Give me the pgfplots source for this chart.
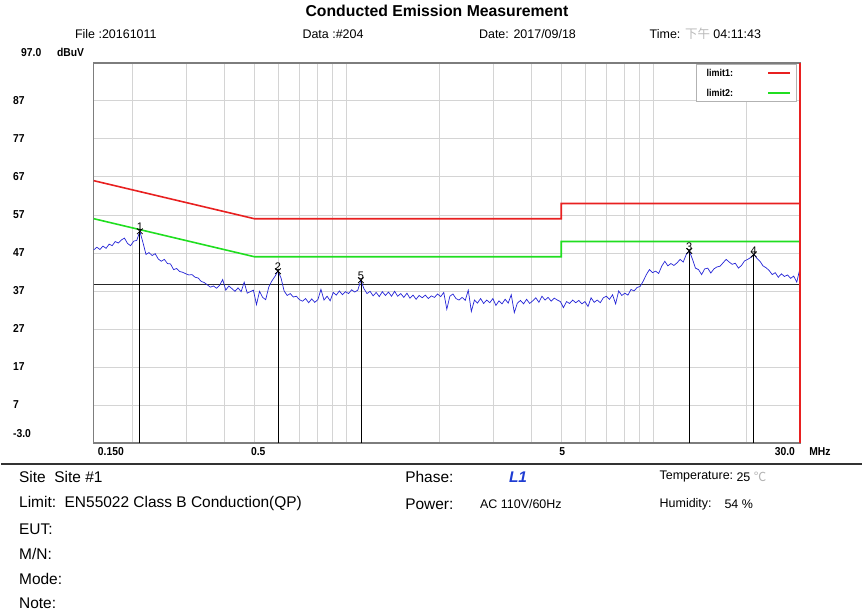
\documentclass[border=0pt]{standalone}
\usepackage{fontspec}
\setmainfont{Liberation Sans}
\newfontfamily\cjk{Noto Sans CJK SC}
\newfontfamily\narrowfont[FakeStretch=0.9]{Liberation Sans}
\usepackage{pgfplots}
\pgfplotsset{compat=1.18}
\usepackage{pgfplotstable}

\definecolor{limone}{RGB}{232,32,32}
\definecolor{limtwo}{RGB}{32,222,32}
\definecolor{tracecol}{RGB}{36,36,214}
\definecolor{gridgray}{RGB}{212,212,212}
\definecolor{framegray}{RGB}{125,125,125}
\definecolor{phaseblue}{RGB}{30,60,210}

% scan trace: frequency (MHz), level (dBuV)
\pgfplotstableread{
f v
0.1500 47.8
0.1535 48.5
0.1571 47.9
0.1607 48.8
0.1645 48.2
0.1683 49.3
0.1722 48.9
0.1762 50.0
0.1803 49.6
0.1845 50.4
0.1888 50.9
0.1932 49.5
0.1977 48.9
0.2024 50.1
0.2071 50.3
0.2119 52.7
0.2168 49.8
0.2219 46.6
0.2270 47.1
0.2323 46.3
0.2377 46.8
0.2433 45.4
0.2489 44.8
0.2547 45.3
0.2607 44.2
0.2667 44.1
0.2730 42.6
0.2793 42.9
0.2858 42.1
0.2925 41.9
0.2993 41.5
0.3063 41.2
0.3134 41.3
0.3207 40.6
0.3282 40.4
0.3358 39.5
0.3436 39.2
0.3516 38.6
0.3598 38.0
0.3682 38.3
0.3768 37.7
0.3856 38.5
0.3945 40.0
0.4037 37.2
0.4131 38.3
0.4228 37.6
0.4326 36.9
0.4427 37.8
0.4530 36.8
0.4635 39.3
0.4743 36.4
0.4854 36.8
0.4967 37.2
0.5083 33.4
0.5201 36.9
0.5322 35.3
0.5446 34.7
0.5573 38.0
0.5703 39.6
0.5836 40.8
0.5972 42.2
0.6111 40.4
0.6253 37.0
0.6399 35.8
0.6548 36.3
0.6700 35.4
0.6856 35.6
0.7016 34.7
0.7179 34.3
0.7347 35.0
0.7518 33.9
0.7693 34.9
0.7872 34.0
0.8055 34.7
0.8243 37.4
0.8435 34.6
0.8632 35.6
0.8833 34.4
0.9038 36.6
0.9249 35.9
0.9464 37.0
0.9685 36.0
0.9910 36.8
1.0141 36.3
1.0377 37.3
1.0619 36.7
1.0867 37.2
1.1120 39.8
1.1379 37.6
1.1644 36.3
1.1915 36.9
1.2192 35.7
1.2476 36.6
1.2767 35.5
1.3064 36.8
1.3369 35.8
1.3680 36.7
1.3999 35.6
1.4325 36.9
1.4659 35.6
1.500 36.3
1.535 35.3
1.571 36.4
1.607 35.1
1.645 35.9
1.683 34.8
1.722 35.8
1.762 35.2
1.803 35.9
1.845 35.0
1.888 35.7
1.932 35.3
1.977 36.2
2.024 35.5
2.071 36.6
2.119 32.2
2.168 35.6
2.219 36.2
2.270 35.0
2.323 34.6
2.377 35.3
2.433 34.5
2.489 37.2
2.547 31.6
2.607 34.6
2.667 33.8
2.730 35.0
2.793 33.7
2.858 34.6
2.925 33.9
2.993 35.0
3.063 33.2
3.134 34.4
3.207 33.6
3.282 34.8
3.358 33.8
3.436 36.0
3.516 31.3
3.598 33.8
3.682 34.5
3.768 33.6
3.856 34.8
3.945 33.7
4.037 34.4
4.131 35.2
4.228 34.0
4.326 35.6
4.427 34.6
4.530 35.3
4.635 34.3
4.743 35.1
4.854 34.6
4.967 34.2
5.083 32.6
5.201 34.2
5.322 33.7
5.446 34.6
5.573 33.9
5.703 34.5
5.836 33.6
5.972 34.2
6.111 32.9
6.253 35.2
6.399 34.0
6.548 34.6
6.700 33.9
6.856 35.2
7.016 35.6
7.179 34.8
7.347 36.0
7.518 33.6
7.693 37.0
7.872 35.8
8.055 36.4
8.243 35.9
8.435 37.4
8.632 37.0
8.833 37.9
9.038 38.2
9.249 39.6
9.464 41.3
9.685 42.6
9.910 41.8
10.14 42.2
10.38 41.6
10.62 43.5
10.87 44.8
11.12 43.6
11.38 44.2
11.64 43.7
11.92 44.4
12.19 45.3
12.48 44.6
12.77 46.6
13.06 47.5
13.37 45.4
13.68 43.0
14.00 42.6
14.33 41.3
14.66 42.8
15.00 43.0
15.35 41.7
15.71 42.8
16.07 43.3
16.45 43.5
16.83 44.4
17.22 45.3
17.62 44.6
18.03 44.0
18.45 44.3
18.88 43.0
19.32 43.7
19.77 44.9
20.24 45.3
20.71 45.8
21.19 46.6
21.68 45.6
22.19 44.8
22.70 43.6
23.23 43.1
23.77 42.4
24.33 41.3
24.89 41.8
25.47 40.6
26.07 41.5
26.67 40.8
27.30 41.2
27.93 40.3
28.58 40.9
29.25 39.3
29.93 42.8
}\tracedata

% marked peaks: frequency (MHz), level (dBuV), marker number
\pgfplotstableread{
f v lab
0.2119 52.7 1
0.5972 42.2 2
1.1120 39.8 5
13.06 47.5 3
21.19 46.6 4
}\peakdata

\tikzset{ticklab/.style={inner sep=0pt, font=\narrowfont\bfseries\fontsize{11.5}{13}\selectfont}}

\begin{document}
\begin{tikzpicture}
\path (0pt,0pt) rectangle (863pt,614pt);

\begin{axis}[
  at={(93pt,170pt)}, anchor=south west,
  scale only axis, width=708pt, height=381pt,
  xmode=log, xmin=0.15, xmax=30, ymin=-3, ymax=97,
  clip=false,
  axis line style={draw=framegray, line width=1.3pt},
  tick style={draw=none},
  xtick={0.15,0.5,5,30}, xticklabels={},
  minor xtick={0.2,0.3,0.4,0.6,0.7,0.8,0.9,1,2,3,4,6,7,8,9,10,20},
  ytick={-3,7,17,27,37,47,57,67,77,87}, yticklabels={},
  xmajorgrids, xminorgrids, ymajorgrids,
  grid style={draw=gridgray, line width=0.8pt},
  minor grid style={draw=gridgray, line width=0.8pt},
]
% limit lines (EN55022 class B, QP and AV)
\addplot[limone, line width=1.6pt] coordinates {(0.15,66) (0.5,56) (5,56) (5,60) (30,60)};
\addplot[limtwo, line width=1.6pt] coordinates {(0.15,56) (0.5,46) (5,46) (5,50) (30,50)};

% reference level
\addplot[black!85, line width=0.9pt] coordinates {(0.15,38.6) (30,38.6)};

% measured trace
\addplot[tracecol, line width=0.7pt] table[x=f, y=v] {\tracedata};

% marker drop lines
\addplot[black, line width=0.7pt] coordinates {(0.2119,52.7) (0.2119,-3)};
\addplot[black, line width=0.7pt] coordinates {(0.5972,42.2) (0.5972,-3)};
\addplot[black, line width=0.7pt] coordinates {(1.1120,39.8) (1.1120,-3)};
\addplot[black, line width=0.7pt] coordinates {(13.06,47.5) (13.06,-3)};
\addplot[black, line width=0.7pt] coordinates {(21.19,46.6) (21.19,-3)};

% markers with their numbers
\addplot[only marks, mark=x, mark size=4pt, black, line width=0.8pt,
  nodes near coords, point meta=explicit symbolic,
  every node near coord/.style={anchor=south, yshift=-1pt, inner sep=1pt,
    font=\fontsize{11}{12}\selectfont, text=black}]
  table[x=f, y=v, meta=lab] {\peakdata};

% right frame edge in limit colour
\addplot[limone, line width=1.3pt] coordinates {(30,-3) (30,97)};

% level labels, flush left at the page margin
\node[ticklab, anchor=west, xshift=-81pt] at (axis cs:0.15,87) {87};
\node[ticklab, anchor=west, xshift=-81pt] at (axis cs:0.15,77) {77};
\node[ticklab, anchor=west, xshift=-81pt] at (axis cs:0.15,67) {67};
\node[ticklab, anchor=west, xshift=-81pt] at (axis cs:0.15,57) {57};
\node[ticklab, anchor=west, xshift=-81pt] at (axis cs:0.15,47) {47};
\node[ticklab, anchor=west, xshift=-81pt] at (axis cs:0.15,37) {37};
\node[ticklab, anchor=west, xshift=-81pt] at (axis cs:0.15,27) {27};
\node[ticklab, anchor=west, xshift=-81pt] at (axis cs:0.15,17) {17};
\node[ticklab, anchor=west, xshift=-81pt] at (axis cs:0.15,7) {7};
\node[ticklab, anchor=west, xshift=-81pt, yshift=9pt] at (axis cs:0.15,-3) {-3.0};

% frequency labels
\node[ticklab, anchor=north west, xshift=4pt, yshift=-4pt] at (axis cs:0.15,-3) {0.150};
\node[ticklab, anchor=north, xshift=4pt, yshift=-4pt] at (axis cs:0.5,-3) {0.5};
\node[ticklab, anchor=north, xshift=1pt, yshift=-4pt] at (axis cs:5,-3) {5};
\node[ticklab, anchor=north east, xshift=-5pt, yshift=-4pt] at (axis cs:30,-3) {30.0};
\node[ticklab, anchor=north west, xshift=9pt, yshift=-4pt] at (axis cs:30,-3) {MHz};
\end{axis}

% limit key, top right inside the frame
\draw[draw=gray!60, fill=white, line width=0.8pt] (697pt,512pt) rectangle (797pt,549pt);
\node[anchor=west, inner sep=0pt, font=\narrowfont\bfseries\fontsize{10}{12}\selectfont] at (707pt,541pt) {limit1:};
\node[anchor=west, inner sep=0pt, font=\narrowfont\bfseries\fontsize{10}{12}\selectfont] at (707pt,521pt) {limit2:};
\draw[draw={rgb,255:red,232;green,32;blue,32}, line width=1.6pt] (769pt,541pt) -- (791pt,541pt);
\draw[draw={rgb,255:red,32;green,222;blue,32}, line width=1.6pt] (769pt,521pt) -- (791pt,521pt);

% header
\node[font=\bfseries\fontsize{15.8}{18}\selectfont] at (437pt,603pt) {Conducted Emission Measurement};
\begin{scope}[every node/.style={anchor=west, inner sep=0pt, font=\fontsize{12.5}{14}\selectfont}]
\node at (74pt,580pt) {File :20161011};
\node at (302pt,580pt) {Data :\#204};
\node at (479pt,580pt) {Date: 2017/09/18};
\node at (650pt,580pt) {Time: {\color{gray!55}\cjk 下午} 04:11:43};
\end{scope}
\node[ticklab, anchor=west] at (20pt,561pt) {97.0};
\node[ticklab, anchor=west] at (56pt,561pt) {dBuV};

% separator
\draw[line width=2pt, black!80] (0pt,149pt) -- (863pt,149pt);

% test information
\begin{scope}[every node/.style={anchor=west, inner sep=0pt, font=\fontsize{15.5}{17}\selectfont}]
\node at (18pt,136pt) {Site\ \ Site \#1};
\node at (18pt,109pt) {Limit:\ \ EN55022 Class B Conduction(QP)};
\node at (18pt,84pt) {EUT:};
\node at (18pt,59pt) {M/N:};
\node at (18pt,34pt) {Mode:};
\node at (18pt,9pt) {Note:};
\node at (405pt,136pt) {Phase:};
\node at (405pt,109pt) {Power:};
\node[font=\bfseries\itshape\fontsize{15.5}{17}\selectfont, text=phaseblue] at (509pt,136pt) {L1};
\end{scope}
\begin{scope}[every node/.style={anchor=west, inner sep=0pt, font=\fontsize{12.5}{14}\selectfont}]
\node at (480pt,109pt) {AC 110V/60Hz};
\node at (660pt,136pt) {Temperature:};
\node at (737pt,136pt) {25 {\color{gray!60}\cjk ℃}};
\node at (660pt,109pt) {Humidity:};
\node at (725pt,109pt) {54 \%};
\end{scope}
\end{tikzpicture}
\end{document}
